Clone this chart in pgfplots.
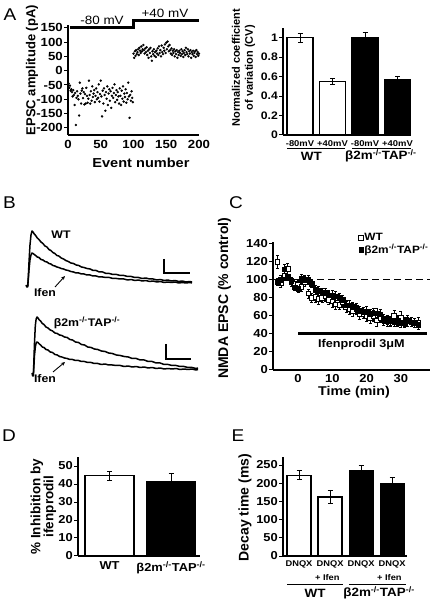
\documentclass[border=0pt]{standalone}
\usepackage{pgfplots}
\pgfplotsset{compat=1.18}
\usepackage{fontspec}
\setmainfont{Liberation Sans}[FakeStretch=1.12]
\newfontfamily\vfont{Liberation Sans}
\usetikzlibrary{arrows.meta}
\newcommand\ft[1]{\fontsize{#1}{#1}\selectfont\bfseries}
\newcommand\fv[1]{\vfont\fontsize{#1}{#1}\selectfont\bfseries}
\newcommand\fvv[2]{\vfont\fontsize{#1}{#2}\selectfont\bfseries}
\newcommand\bko{β2m\textsuperscript{-/-}TAP\textsuperscript{-/-}}
\pgfplotsset{
 base/.style={scale only axis, anchor=south west, axis lines=left,
   axis line style={-, line width=1.1pt},
   every tick/.style={black, line width=1pt},
   tick align=outside, major tick length=4pt,
   xtick style={draw=none},
   clip=false,
   /pgf/number format/assume math mode=true,
   yticklabel style={inner sep=1pt},
   xticklabel style={inner sep=1pt}},
 bars/.style={ybar, bar shift=0pt, draw=black, line width=1.1pt,
   error bars/.cd, y dir=both, y explicit,
   error bar style={line width=0.9pt, black},
   error mark options={rotate=90, mark size=2.5pt, line width=0.9pt, black}},
 trace/.style={line width=1.5pt, line join=round, black},
}
\begin{document}
\begin{tikzpicture}[x=1pt,y=1pt]
\useasboundingbox (0,0) rectangle (432,604);
% panel letters
\node[font=\fontsize{17}{17}\selectfont] at (10,589) {A};
\node[font=\fontsize{17}{17}\selectfont] at (9.5,401) {B};
\node[font=\fontsize{17}{17}\selectfont] at (236,401) {C};
\node[font=\fontsize{17}{17}\selectfont] at (9,168) {D};
\node[font=\fontsize{17}{17}\selectfont] at (238,168) {E};

% ---------------- A left
\begin{axis}[base, at={(68pt,469pt)}, width=131pt, height=110pt,
 xmin=0, xmax=200, ymin=-225, ymax=160,
 xtick={0,50,100,150,200}, ytick={-200,-150,-100,-50,0,50,100,150},
 tick label style={font=\ft{11.8}},
 xlabel={Event number}, xlabel style={font=\ft{13}, at={(axis description cs:0.557,-0.255)}, anchor=center},
 ylabel={EPSC amplitude (pA)}, ylabel style={font=\fv{13}, at={(axis description cs:-0.275,0.59)}, anchor=center}]
\addplot[only marks, mark=*, mark size=1pt, black] coordinates {
(1,-45)(2,-60)(3,-52)(4,-70)(5,-65)(6,-75)(7,-90)(8,-68)(9,-85)(10,-120)
(11,-78)(12,-190)(13,-95)(14,-72)(15,-88)(16,-100)(17,-157)(18,-42)(19,-80)(20,-115)
(21,-70)(22,-62)(23,-96)(24,-75)(25,-118)(26,-82)(27,-115)(28,-60)(29,-88)(30,-112)
(31,-98)(32,-35)(33,-85)(34,-115)(35,-72)(36,-105)(37,-55)(38,-92)(39,-80)(40,-68)
(41,-110)(42,-88)(43,-62)(44,-100)(45,-75)(46,-95)(47,-48)(48,-108)(49,-82)(50,-35)
(51,-90)(52,-160)(53,-70)(54,-115)(55,-62)(56,-85)(57,-140)(58,-75)(59,-98)(60,-55)
(61,-120)(62,-80)(63,-65)(64,-105)(65,-72)(66,-130)(67,-88)(68,-60)(69,-95)(70,-78)
(71,-48)(72,-110)(73,-85)(74,-68)(75,-102)(76,-75)(77,-90)(78,-115)(79,-62)(80,-88)
(81,-120)(82,-70)(83,-98)(84,-55)(85,-108)(86,-80)(87,-92)(88,-65)(89,-112)(90,-78)
(91,-100)(92,-42)(93,-90)(94,-165)(95,-85)(96,-105)(97,-72)(98,-95)(99,-110)
(100,60)(101,45)(102,68)(103,52)(104,72)(105,58)(106,65)(107,75)(108,55)(109,80)
(110,70)(111,62)(112,85)(113,68)(114,75)(115,90)(116,72)(117,60)(118,78)(119,65)
(120,82)(121,55)(122,70)(123,45)(124,75)(125,62)(126,80)(127,50)(128,35)(129,68)
(130,58)(131,75)(132,52)(133,65)(134,48)(135,70)(136,60)(137,78)(138,55)(139,85)
(140,62)(141,72)(142,50)(143,88)(144,65)(145,58)(146,80)(147,70)(148,92)(149,62)
(150,98)(151,75)(152,102)(153,85)(154,68)(155,90)(156,72)(157,60)(158,78)(159,55)
(160,70)(161,62)(162,75)(163,50)(164,68)(165,58)(166,72)(167,45)(168,65)(169,55)
(170,70)(171,62)(172,52)(173,75)(174,58)(175,68)(176,48)(177,62)(178,72)(179,55)
(180,80)(181,65)(182,58)(183,75)(184,50)(185,68)(186,60)(187,72)(188,45)(189,65)
(190,58)(191,70)(192,52)(193,62)(194,68)(195,48)(196,72)(197,58)(198,65)(199,52)(200,60)};
\addplot[line width=3pt, line join=miter, black] coordinates {(3,150)(100,150)(100,174)(200,174)};
\node[font=\fontsize{12}{12}\selectfont] at (axis cs:52,176) {-80 mV};
\node[font=\fontsize{12}{12}\selectfont] at (axis cs:148,202) {+40 mV};
\end{axis}

% ---------------- A right
\begin{axis}[base, at={(283pt,469pt)}, width=128pt, height=107pt,
 xmin=0.477, xmax=4.415, ymin=0, ymax=1.1,
 ytick={0,0.2,0.4,0.6,0.8,1}, yticklabels={0,0.2,0.4,0.6,0.8,1},
 xtick={1,2,3,4}, xticklabels={-80mV,+40mV,-80mV,+40mV},
 yticklabel style={font=\ft{10.9}}, xticklabel style={font=\ft{8.4}},
 ylabel={Normalized coefficient\\of variation (CV)},
 ylabel style={font=\fvv{11}{13}, align=center, at={(axis description cs:-0.309,0.63)}, anchor=center}]
\addplot[fill=white, bar width=26pt, bars] coordinates {(1,1.0) +- (0,0.045) (2,0.55) +- (0,0.035)};
\addplot[fill=black, bar width=26pt, bars] coordinates {(3,1.0) +- (0,0.05) (4,0.565) +- (0,0.035)};
\draw[line width=1pt] (axis cs:0.6,-0.134) -- (axis cs:2.385,-0.134);
\draw[line width=1pt] (axis cs:2.6,-0.134) -- (axis cs:4.415,-0.134);
\node[font=\ft{12}] at (axis cs:1.35,-0.216) {WT};
\node[font=\ft{12}] at (axis cs:3.49,-0.216) {\bko};
\end{axis}

% ---------------- B traces WT
\begin{axis}[scale only axis, anchor=south west, at={(26pt,314pt)}, width=166pt, height=65pt,
 xmin=0, xmax=1000, ymin=-10, ymax=120, hide axis, clip=false]
\addplot[trace] coordinates {(0,0)(5,-4)(10,-4)(13,10)(18,45)(24,80)(30,100)(36,108)(42,106)(50,102)(58,99)(68,94)(78,91)(90,86)(102,83)(114,78)(126,76)(138,71)(150,69)(162,65)(174,63)(186,59)(198,58)(212,54)(226,52)(240,49)(255,47)(270,44)(286,43)(302,40)(318,39)(334,36)(350,35)(368,33)(386,32)(404,29)(422,29)(442,26)(462,26)(482,23)(502,23)(524,21)(546,21)(568,19)(590,19)(612,17)(634,17)(656,15)(678,15)(700,13)(722,14)(744,12)(766,12)(788,10)(810,11)(832,9)(854,10)(876,8)(898,9)(920,7)(942,8)(964,6)(986,7)(1000,6)};
\addplot[trace] coordinates {(10,-4)(13,8)(18,30)(24,50)(30,60)(36,64)(42,63)(50,61)(58,59)(68,56)(78,55)(90,51)(102,50)(114,47)(126,46)(138,43)(150,42)(162,39)(174,38)(186,36)(198,35)(212,33)(226,32)(240,30)(255,29)(270,27)(286,26)(302,24)(318,24)(334,22)(350,22)(368,20)(386,20)(404,18)(422,18)(442,16)(462,16)(482,15)(502,15)(524,13)(546,13)(568,12)(590,12)(612,10)(634,11)(656,9)(678,10)(700,8)(722,9)(744,7)(766,8)(788,6)(810,7)(832,5)(854,6)(876,5)(898,6)(920,4)(942,5)(964,4)(986,5)(1000,4)};
\draw[line width=2pt] (axis cs:831,52) -- (axis cs:831,24) -- (axis cs:988,24);
\end{axis}

% ---------------- B traces KO
\begin{axis}[scale only axis, anchor=south west, at={(32pt,226pt)}, width=166pt, height=65pt,
 xmin=0, xmax=1000, ymin=-10, ymax=120, hide axis, clip=false]
\addplot[trace] coordinates {(0,0)(4,-6)(8,-6)(11,20)(15,60)(20,95)(25,108)(30,112)(36,110)(44,106)(52,104)(62,99)(72,97)(84,92)(96,90)(110,86)(124,84)(138,80)(152,79)(166,76)(180,75)(196,72)(212,71)(228,67)(244,66)(262,62)(280,61)(298,57)(316,56)(336,52)(356,51)(376,48)(396,47)(418,44)(440,43)(462,40)(484,39)(508,36)(532,35)(556,33)(580,32)(604,29)(628,29)(652,26)(676,26)(700,23)(724,23)(748,20)(772,20)(796,17)(820,17)(844,15)(868,15)(892,13)(916,13)(940,11)(964,11)(988,9)(1000,10)};
\addplot[trace] coordinates {(8,-6)(11,12)(15,35)(20,52)(25,60)(30,62)(36,61)(44,58)(52,56)(62,52)(72,51)(84,47)(96,46)(110,42)(124,41)(138,37)(152,36)(166,33)(180,32)(196,30)(212,29)(228,27)(244,27)(262,25)(280,25)(298,23)(316,23)(336,21)(356,21)(376,19)(396,19)(418,17)(440,18)(462,16)(484,16)(508,15)(532,15)(556,13)(580,14)(604,12)(628,13)(652,11)(676,12)(700,10)(724,11)(748,9)(772,10)(796,8)(820,9)(844,8)(868,9)(892,7)(916,8)(940,7)(964,8)(988,6)(1000,7)};
\draw[line width=2pt] (axis cs:807,58) -- (axis cs:807,28) -- (axis cs:958,28);
\end{axis}
\node[font=\ft{11}] at (61,369) {WT};
\node[font=\ft{11}] at (45,311) {Ifen};
\draw[line width=0.9pt, -{Stealth[length=4pt,width=3.5pt]}] (55,317) -- (65,328);
\node[font=\ft{11}] at (87,281) {\bko};
\node[font=\ft{11}] at (45,225) {Ifen};
\draw[line width=0.9pt, -{Stealth[length=4pt,width=3.5pt]}] (53,232) -- (65,242);

% ---------------- C
\begin{axis}[base, at={(273pt,234pt)}, width=157pt, height=128pt,
 xmin=-7.3, xmax=38.5, ymin=0, ymax=142,
 ytick={0,20,...,140}, xtick={0,10,20,30},
 tick label style={font=\ft{11.6}},
 xticklabel style={yshift=1pt},
 xlabel={Time (min)}, xlabel style={font=\ft{12.7}, at={(axis description cs:0.516,-0.172)}, anchor=center},
 ylabel={NMDA EPSC (\% control)}, ylabel style={font=\fv{14}, at={(axis description cs:-0.309,0.56)}, anchor=center},
 legend style={at={(axis description cs:0.545,1.075)}, anchor=north west, draw=none, fill=none, font={\ft{10.6}}, inner sep=0pt, row sep=0pt, nodes={inner sep=1pt}},
 legend cell align=left]
\addplot[forget plot, line width=1.1pt, dash pattern=on 7pt off 4pt] coordinates {(-7.3,100)(38.5,100)};
\addplot[forget plot, line width=3pt] coordinates {(0,40)(37.5,40)};
\node[font=\ft{11.3}] at (axis cs:18.5,28) {Ifenprodil 3μM};
\addplot[only marks, mark=square*, mark size=2.3pt, mark options={fill=white, draw=black, line width=0.6pt},
 error bars/.cd, y dir=both, y explicit, error bar style={line width=0.6pt, black}, error mark options={rotate=90, mark size=1.5pt, line width=0.6pt, black}]
 coordinates {(-6,120)+-(0,7)(-5,97)+-(0,5)(-4,105)+-(0,5)(-3,112)+-(0,6)(-2,98)+-(0,5)(-1,96)+-(0,5)(0,95)+-(0,5)(1,92)+-(0,5)(2,98)+-(0,5)(3,85)+-(0,5)(4,80)+-(0,5)(5,81)+-(0,6)(6,79)+-(0,6)(7,80)+-(0,5)(8,82)+-(0,6)(9,78)+-(0,5)(10,76)+-(0,6)(11,73)+-(0,6)(12,72)+-(0,5)(13,75)+-(0,5)(14,70)+-(0,6)(15,68)+-(0,6)(16,65)+-(0,5)(17,68)+-(0,6)(18,62)+-(0,6)(19,62)+-(0,5)(20,60)+-(0,6)(21,58)+-(0,6)(22,60)+-(0,6)(23,55)+-(0,6)(24,58)+-(0,5)(25,56)+-(0,6)(26,54)+-(0,6)(27,54)+-(0,5)(28,60)+-(0,6)(29,55)+-(0,6)(30,58)+-(0,7)(31,52)+-(0,5)(32,55)+-(0,6)(33,53)+-(0,5)(34,52)+-(0,5)(35,53)+-(0,5)};
\addlegendentry{WT}
\addplot[only marks, mark=square*, mark size=2.3pt, mark options={fill=black, draw=black},
 error bars/.cd, y dir=both, y explicit, error bar style={line width=0.6pt, black}, error mark options={rotate=90, mark size=1.5pt, line width=0.6pt, black}]
 coordinates {(-6,98)+-(0,4)(-5,100)+-(0,5)(-4,112)+-(0,5)(-3,104)+-(0,5)(-2,99)+-(0,4)(-1,92)+-(0,4)(0,90)+-(0,4)(1,101)+-(0,5)(2,100)+-(0,5)(3,100)+-(0,5)(4,96)+-(0,4)(5,89)+-(0,5)(6,88)+-(0,5)(7,86)+-(0,5)(8,86)+-(0,5)(9,83)+-(0,5)(10,83)+-(0,5)(11,82)+-(0,5)(12,80)+-(0,5)(13,78)+-(0,5)(14,72)+-(0,5)(15,72)+-(0,5)(16,70)+-(0,5)(17,69)+-(0,5)(18,66)+-(0,5)(19,65)+-(0,5)(20,65)+-(0,6)(21,62)+-(0,5)(22,63)+-(0,5)(23,63)+-(0,5)(24,62)+-(0,5)(25,57)+-(0,5)(26,56)+-(0,5)(27,55)+-(0,5)(28,53)+-(0,5)(29,55)+-(0,5)(30,52)+-(0,5)(31,53)+-(0,5)(32,54)+-(0,5)(33,53)+-(0,5)(34,52)+-(0,5)(35,50)+-(0,5)};
\addlegendentry{\bko}
\end{axis}

% ---------------- D
\begin{axis}[base, at={(78pt,48pt)}, width=122pt, height=99pt,
 xmin=0.488, xmax=2.47, ymin=0, ymax=55,
 ytick={0,10,20,30,40,50}, xtick={1,2}, xticklabels={WT,\bko},
 yticklabel style={font=\ft{11.5}}, xticklabel style={font=\ft{11.5}},
 ylabel={\% Inhibition by\\ifenprodil},
 ylabel style={font=\fvv{13.5}{13}, align=center, at={(axis description cs:-0.283,0.5)}, anchor=center}]
\addplot[fill=white, bar width=49pt, bars] coordinates {(1,44.5) +- (0,2.5)};
\addplot[fill=black, bar width=49pt, bars] coordinates {(2,41.5) +- (0,4.3)};
\end{axis}

% ---------------- E
\begin{axis}[base, at={(283pt,48pt)}, width=124pt, height=99pt,
 xmin=0.484, xmax=4.48, ymin=0, ymax=272,
 ytick={0,50,100,150,200,250}, xtick={1,2,3,4}, xticklabels={DNQX,DNQX,DNQX,DNQX},
 yticklabel style={font=\ft{11.5}}, xticklabel style={font=\ft{8.3}},
 ylabel={Decay time (ms)},
 ylabel style={font=\fv{14}, at={(axis description cs:-0.306,0.49)}, anchor=center}]
\addplot[fill=white, bar width=24pt, bars] coordinates {(1,222) +- (0,12) (2,162) +- (0,17)};
\addplot[fill=black, bar width=24pt, bars] coordinates {(3,235) +- (0,15) (4,200) +- (0,17)};
\node[font=\ft{8.3}, anchor=east] at (axis cs:2.42,-60) {+ Ifen};
\node[font=\ft{8.3}, anchor=east] at (axis cs:4.42,-60) {+ Ifen};
\draw[line width=1pt] (axis cs:0.613,-77) -- (axis cs:2.42,-77);
\draw[line width=1pt] (axis cs:2.61,-77) -- (axis cs:4.45,-77);
\node[font=\ft{12}] at (axis cs:1.52,-102) {WT};
\node[font=\ft{12}] at (axis cs:3.58,-102) {\bko};
\end{axis}
\end{tikzpicture}
\end{document}
